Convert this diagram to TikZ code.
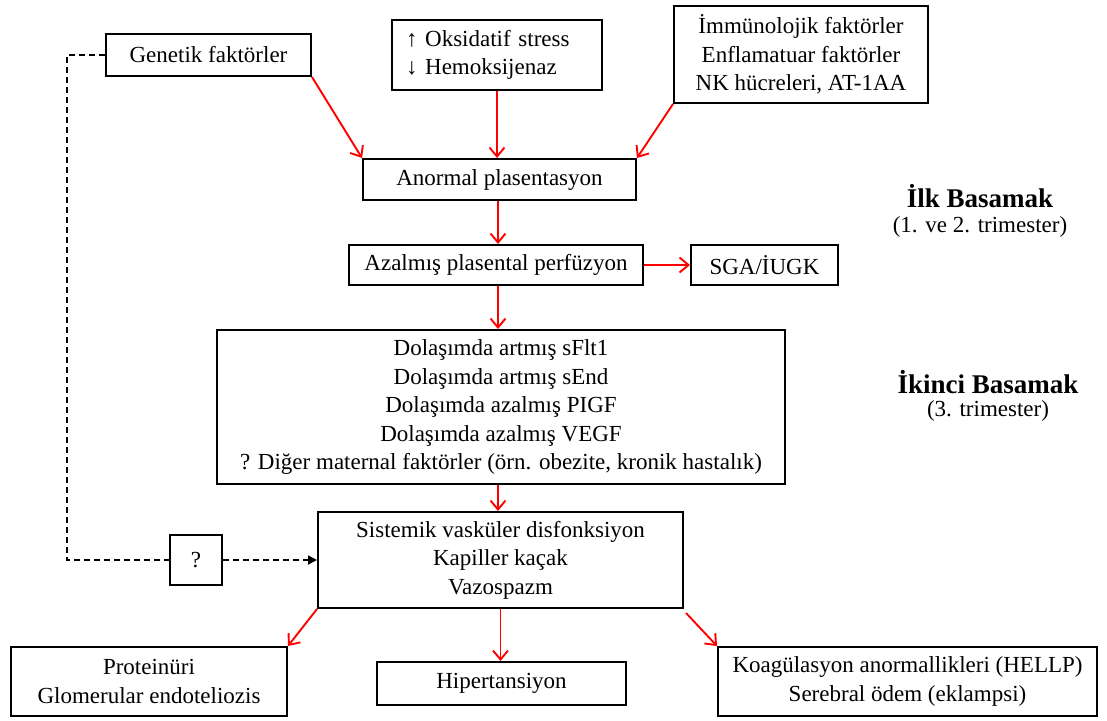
\documentclass[tikz,border=0pt]{standalone}
\usepackage{fontspec}
\setmainfont{Liberation Serif}
\usetikzlibrary{arrows.meta,calc}
\begin{document}
\begin{tikzpicture}[x=1pt,y=-1pt,
  box/.style={draw=black,line width=2pt,inner sep=0pt,align=center,
    font=\fontsize{23}{28.5}\selectfont},
  redarrow/.style={draw=red,line width=1.9pt,
    -{Straight Barb[length=9pt,width=15pt,line width=1.9pt]}},
  dasharrow/.style={draw=black,line width=1.8pt,dash pattern=on 6pt off 4pt},
  hdr/.style={font=\fontsize{27}{32}\selectfont\bfseries,inner sep=0pt},
  sub/.style={font=\fontsize{23}{28.5}\selectfont,inner sep=0pt}]
\useasboundingbox (0,0) rectangle (1107,720);
\fill[white] (0,0) rectangle (1107,720);

\node[box,minimum width=205pt,minimum height=42pt] (gen) at (208.5,55) {Genetik faktörler};
\node[box,minimum width=210pt,minimum height=70pt,align=left,text width=182pt,inner xsep=14pt] (oks) at (497,55)
  {↑ Oksidatif stress\\↓ Hemoksijenaz};
\node[box,minimum width=254pt,minimum height=97pt] (imm) at (801,54.5)
  {İmmünolojik faktörler\\Enflamatuar faktörler\\NK hücreleri, AT-1AA};
\node[box,minimum width=273pt,minimum height=41pt] (anp) at (499.5,179.5) {Anormal plasentasyon};
\node[box,minimum width=294pt,minimum height=40pt] (azp) at (496,265) {Azalmış plasental perfüzyon};
\node[box,minimum width=147pt,minimum height=40pt] (sga) at (764.5,265) {SGA/İUGK};
\node[box,minimum width=568pt,minimum height=154pt] (dol) at (501,407)
  {Dolaşımda artmış sFlt1\\Dolaşımda artmış sEnd\\Dolaşımda azalmış PIGF\\Dolaşımda azalmış VEGF\\? Diğer maternal faktörler (örn. obezite, kronik hastalık)};
\node[box,minimum width=365pt,minimum height=96pt] (sis) at (500.5,560)
  {Sistemik vasküler disfonksiyon\\Kapiller kaçak\\Vazospazm};
\node[box,minimum width=52pt,minimum height=50pt] (q) at (196,560) {?};
\node[box,minimum width=276pt,minimum height=69pt] (pro) at (149,681.5)
  {Proteinüri\\Glomerular endoteliozis};
\node[box,minimum width=249pt,minimum height=43pt] (hip) at (501.5,683.5) {Hipertansiyon};
\node[box,minimum width=379pt,minimum height=69pt] (koa) at (907.5,681.5)
  {Koagülasyon anormallikleri (HELLP)\\Serebral ödem (eklampsi)};

\node[hdr] (h1) at (980,196) {İlk Basamak};
\node[sub] (s1) at (980,227) {(1. ve 2. trimester)};
\node[hdr] (h2) at (988,382) {İkinci Basamak};
\node[sub] (s2) at (988,411) {(3. trimester)};

\draw[redarrow] (gen.south east) -- (anp.north west);
\draw[redarrow] (oks.south) -- (oks.south |- anp.north);
\draw[redarrow] (imm.south west) -- (anp.north east);
\draw[redarrow] ($(anp.south)+(-1.5,0)$) -- ($(anp.south |- azp.north)+(-1.5,0)$);
\draw[redarrow] (azp.east) -- (sga.west);
\draw[redarrow] ($(azp.south)+(2,0)$) -- ($(azp.south |- dol.north)+(2,0)$);
\draw[redarrow] ($(dol.south)+(-3,0)$) -- ($(dol.south |- sis.north)+(-3,0)$);
\draw[redarrow] (sis.south west) -- (pro.north east);
\draw[redarrow] (sis.south) -- (sis.south |- hip.north);
\draw[redarrow] ($(sis.south east)+(2,4)$) -- (koa.north west);

\coordinate (dl) at ($(gen.west)+(-38,0)$);
\draw[dasharrow] (gen.west) -- (dl) |- (q.west);
\draw[dasharrow,-{Triangle[length=9pt,width=9pt]}] (q.east) -- (sis.west);
\end{tikzpicture}
\end{document}
